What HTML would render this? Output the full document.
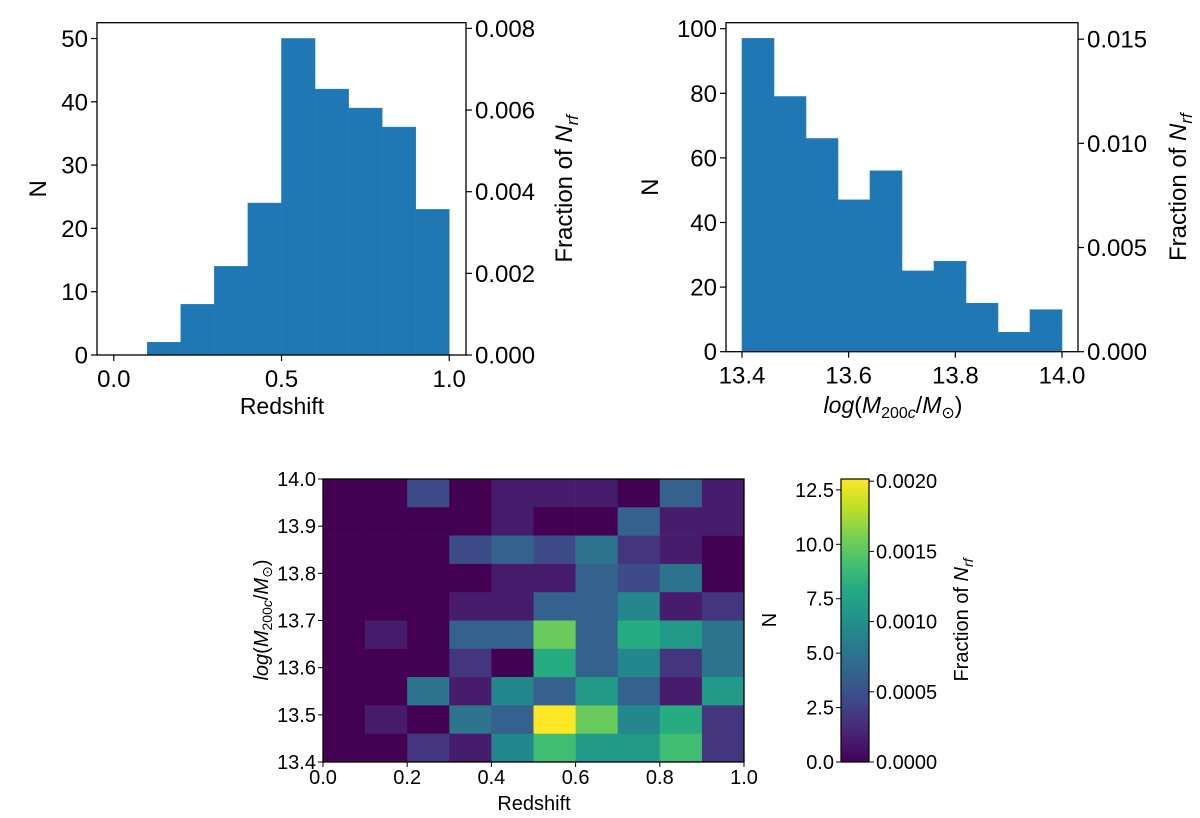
<!DOCTYPE html>
<html><head><meta charset="utf-8">
<style>
body{margin:0;background:#fff;}
svg{display:block;font-family:"Liberation Sans","DejaVu Sans",sans-serif;}
</style></head>
<body>
<svg id="fig" width="1200" height="818" viewBox="0 0 1200 818" xmlns="http://www.w3.org/2000/svg">
<defs>
<linearGradient id="vir" x1="0" y1="1" x2="0" y2="0">
<stop offset="0" stop-color="#440154"/><stop offset="0.1" stop-color="#482475"/><stop offset="0.2" stop-color="#414487"/><stop offset="0.3" stop-color="#355f8d"/><stop offset="0.4" stop-color="#2a788e"/><stop offset="0.5" stop-color="#21918c"/><stop offset="0.6" stop-color="#22a884"/><stop offset="0.7" stop-color="#44bf70"/><stop offset="0.8" stop-color="#7ad151"/><stop offset="0.9" stop-color="#bddf26"/><stop offset="1" stop-color="#fde725"/>
</linearGradient>
</defs>
</svg>
<script>
// ---- data ----
const zBins = [0.0,0.1,0.2,0.3,0.4,0.5,0.6,0.7,0.8,0.9];
const zCounts = [0,2,8,14,24,50,42,39,36,23];
const mBins = [13.40,13.46,13.52,13.58,13.64,13.70,13.76,13.82,13.88,13.94];
const mCounts = [97,79,66,47,56,25,28,15,6,13];
const leftYTicks = [0,10,20,30,40,50];
const leftXTicks = ["0.0","0.5","1.0"];
const leftFracTicks = ["0.000","0.002","0.004","0.006","0.008"];
const rightYTicks = [0,20,40,60,80,100];
const rightXTicks = ["13.4","13.6","13.8","14.0"];
const rightFracTicks = ["0.000","0.005","0.010","0.015"];
// heatmap rows listed from top (13.94-14.0) to bottom (13.40-13.46)
const heatRows = [
 [0,0,3,0,1,1,1,0,4,1],
 [0,0,0,0,1,0,0,4,1,1],
 [0,0,0,3,4,3,5,2,1,0],
 [0,0,0,0,1,1,4,3,5,0],
 [0,0,0,1,1,4,4,6,1,2],
 [0,1,0,4,4,10,4,8,7,5],
 [0,0,0,2,0,8,4,6,2,5],
 [0,0,5,1,6,4,7,4,1,7],
 [0,1,0,5,4,13,10,6,8,2],
 [0,0,2,1,6,9,7,7,9,2]
];
const heatXTicks = ["0.0","0.2","0.4","0.6","0.8","1.0"];
const heatYTicks = ["13.4","13.5","13.6","13.7","13.8","13.9","14.0"];
const cbTicks = ["0.0","2.5","5.0","7.5","10.0","12.5"];
const cbFracTicks = ["0.0000","0.0005","0.0010","0.0015","0.0020"];
const NRF = 6450;
const VMAX = 13;

const NS="http://www.w3.org/2000/svg";
const svg=document.getElementById('fig');
function mk(tag,attrs,parent){const e=document.createElementNS(NS,tag);for(const k in attrs)e.setAttribute(k,attrs[k]);(parent||svg).appendChild(e);return e;}
function txt(s,x,y,size,anchor,parent,rot){const t=mk('text',{x:x,y:y,'font-size':size,'text-anchor':anchor||'middle',fill:'#000'},parent);if(rot)t.setAttribute('transform','rotate('+rot+' '+x+' '+y+')');t.textContent=s;return t;}
function fracLabel(x,y,size){const t=mk('text',{x:x,y:y,'font-size':size,'text-anchor':'middle',fill:'#000',transform:'rotate(-90 '+x+' '+y+')'});
 t.innerHTML='Fraction of <tspan font-style="italic">N</tspan><tspan font-style="italic" font-size="'+(size*0.7)+'" dy="'+(size*0.25)+'">rf</tspan>';return t;}

const VIR=["#440154","#482475","#414487","#355f8d","#2a788e","#21918c","#22a884","#44bf70","#7ad151","#bddf26","#fde725"];
function hex2(h){return [parseInt(h.substr(1,2),16),parseInt(h.substr(3,2),16),parseInt(h.substr(5,2),16)];}
function viridis(t){t=Math.max(0,Math.min(1,t));const p=t*10,i=Math.min(9,Math.floor(p)),f=p-i;const a=hex2(VIR[i]),b=hex2(VIR[i+1]);return 'rgb('+a.map((v,k)=>Math.round(v+(b[k]-v)*f)).join(',')+')';}

// ---- histogram panel ----
function hist(o){
 const g=mk('g',{});
 const X=v=>o.x0+(v-o.xmin)/(o.xmax-o.xmin)*(o.x1-o.x0);
 const Y=v=>o.y1-(v/o.ymax)*(o.y1-o.y0);
 o.bins.forEach((b,i)=>{const r=mk('rect',{x:X(b),y:Y(o.counts[i]),width:X(b+o.w)-X(b),height:o.y1-Y(o.counts[i]),fill:'#1f77b4',stroke:'#2a7fbd','stroke-width':0.6},g);
  });
 mk('rect',{x:o.x0,y:o.y0,width:o.x1-o.x0,height:o.y1-o.y0,fill:'none',stroke:'#000','stroke-width':1.3},g);
 o.yt.forEach(v=>{const y=Y(v);mk('line',{x1:o.x0-6,x2:o.x0,y1:y,y2:y,stroke:'#000','stroke-width':1.2},g);const t=txt(String(v),o.x0-9,y+8.5,24,'end',g);});
 o.xt.forEach(s=>{const x=X(parseFloat(s));mk('line',{x1:x,x2:x,y1:o.y1,y2:o.y1+6,stroke:'#000','stroke-width':1.2},g);const t=txt(s,x,o.y1+32,24,'middle',g);});
 o.ft.forEach(s=>{const y=Y(parseFloat(s)*NRF);mk('line',{x1:o.x1,x2:o.x1+6,y1:y,y2:y,stroke:'#000','stroke-width':1.2},g);const t=txt(s,o.x1+9,y+8.5,24,'start',g);});
 const yl=txt('N',o.nx,(o.y0+o.y1)/2,24,'middle',g,-90);
 fracLabel(o.fx,(o.y0+o.y1)/2,24);
 return {g,X,Y};
}
hist({name:'redshift-histogram',x0:97,x1:466,y0:22.7,y1:355,xmin:-0.05,xmax:1.05,ymax:52.5,bins:zBins,counts:zCounts,w:0.1,yt:leftYTicks,xt:leftXTicks,ft:leftFracTicks,nx:46,fx:572});
const xl1=txt('Redshift',282,414,23,'middle');
hist({name:'mass-histogram',x0:726,x1:1078,y0:22.7,y1:351.7,xmin:13.37,xmax:14.03,ymax:101.85,bins:mBins,counts:mCounts,w:0.06,yt:rightYTicks,xt:rightXTicks,ft:rightFracTicks,nx:658,fx:1186});
const xl2=mk('text',{x:893,y:413,'font-size':23,'text-anchor':'middle'});

xl2.innerHTML='<tspan font-style="italic">log</tspan>(<tspan font-style="italic">M</tspan><tspan font-size="16" dy="5">200<tspan font-style="italic">c</tspan></tspan><tspan dy="-5">/</tspan><tspan font-style="italic">M</tspan><tspan font-size="16" dy="5">⊙</tspan><tspan dy="-5">)</tspan>';

// ---- heatmap ----
const hx0=323,hx1=744,hy0=479,hy1=762;
const HX=v=>hx0+v*(hx1-hx0);
const HY=v=>hy1-(v-13.4)/0.6*(hy1-hy0);
const hg=mk('g',{});
heatRows.forEach((row,ri)=>{const m0=13.4+(heatRows.length-1-ri)*0.06;row.forEach((v,ci)=>{
 const r=mk('rect',{x:HX(zBins[ci]),y:HY(m0+0.06),width:HX(zBins[ci]+0.1)-HX(zBins[ci])+0.3,height:HY(m0)-HY(m0+0.06)+0.3,fill:viridis(v/VMAX)},hg);
 });});
mk('rect',{x:hx0,y:hy0,width:hx1-hx0,height:hy1-hy0,fill:'none',stroke:'#000','stroke-width':1.3},hg);
heatXTicks.forEach(s=>{const x=HX(parseFloat(s));mk('line',{x1:x,x2:x,y1:hy1,y2:hy1+5,stroke:'#000'},hg);const t=txt(s,x,hy1+22,20,'middle',hg);});
heatYTicks.forEach(s=>{const y=HY(parseFloat(s));mk('line',{x1:hx0-5,x2:hx0,y1:y,y2:y,stroke:'#000'},hg);const t=txt(s,hx0-7,y+7,20,'end',hg);});
const hxl=txt('Redshift',534,810,20,'middle');
const hyl=mk('text',{x:268,y:620,'font-size':20,'text-anchor':'middle',transform:'rotate(-90 268 620)'});

hyl.innerHTML='<tspan font-style="italic">log</tspan>(<tspan font-style="italic">M</tspan><tspan font-size="14" dy="4">200<tspan font-style="italic">c</tspan></tspan><tspan dy="-4">/</tspan><tspan font-style="italic">M</tspan><tspan font-size="14" dy="4">⊙</tspan><tspan dy="-4">)</tspan>';

// ---- colorbar ----
const cx0=841,cx1=869;
const CY=v=>hy1-v/VMAX*(hy1-hy0);
const cb=mk('g',{});
mk('rect',{x:cx0,y:hy0,width:cx1-cx0,height:hy1-hy0,fill:'url(#vir)',stroke:'#000','stroke-width':1.2},cb);
cbTicks.forEach(s=>{const y=CY(parseFloat(s));mk('line',{x1:cx0-5,x2:cx0,y1:y,y2:y,stroke:'#000'},cb);const t=txt(s,cx0-7,y+7,20,'end',cb);});
cbFracTicks.forEach(s=>{const y=CY(parseFloat(s)*NRF);mk('line',{x1:cx1,x2:cx1+5,y1:y,y2:y,stroke:'#000'},cb);const t=txt(s,cx1+7,y+7,20,'start',cb);});
const cbn=txt('N',776,620,20,'middle',null,-90);
fracLabel(968,620,20);
</script>
</body></html>
